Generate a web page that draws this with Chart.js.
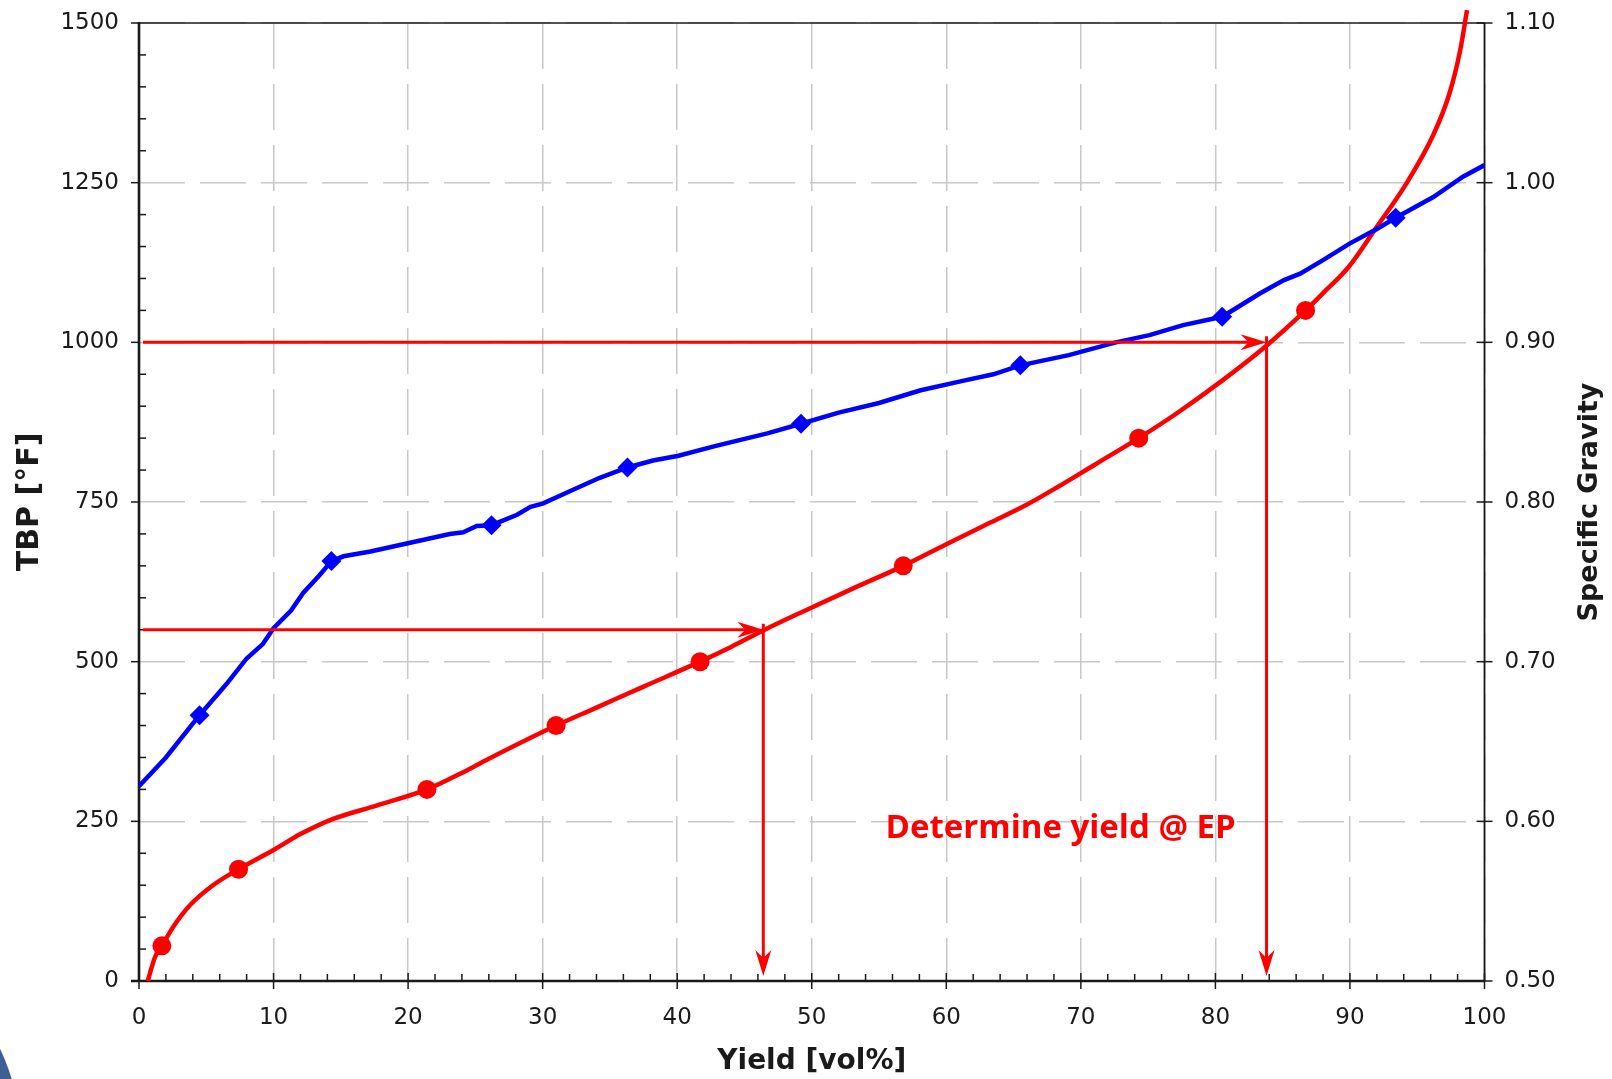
<!DOCTYPE html>
<html>
<head>
<meta charset="utf-8">
<title>TBP curve and specific gravity</title>
<script src="https://cdn.jsdelivr.net/npm/chart.js@4.4.1/dist/chart.umd.min.js"></script>
<style>
  html, body { margin: 0; padding: 0; background: #fff; overflow: hidden; }
  #wrap { position: relative; width: 1612px; height: 1079px; overflow: hidden; }
  #logo { position: absolute; left: -380px; top: 936px; width: 400px; height: 400px; border-radius: 50%; background: #3f5f94; }
</style>
</head>
<body>
<div id="wrap">
  <canvas id="tbpChart" width="1612" height="1079"></canvas>
  <div id="logo"></div>
</div>
<script>
// TBP distillation curve: cumulative yield [vol%] vs. boiling point [°F]
const tbpYield = [0.65, 1.2, 1.7, 2.55, 3.8, 5.5, 7.4, 10, 12, 14.2, 17.7, 21.4, 24.1, 26, 31, 34, 37.5, 41.7, 44, 46.5, 49.4, 53, 56.8, 60, 63.2, 66, 68.4, 71, 74.3, 77, 80.5, 83.7, 86.7, 88, 89.9, 92, 94.2, 96.2, 97.4, 98.2, 98.7]
const tbpTemp = [0, 38, 55, 85, 119, 150, 175, 205, 230, 252, 275, 300, 327, 348, 400, 428, 461, 500, 523, 550, 579, 614, 650, 684, 717, 746, 775, 808, 850, 887, 940, 993, 1050, 1077, 1118, 1181, 1249, 1325, 1390, 1458, 1520]

// assay cuts plotted with round markers
const tbpMarkYield = [1.7, 7.4, 21.4, 31, 41.7, 56.8, 74.3, 86.7]
const tbpMarkTemp = [55, 175, 300, 400, 500, 650, 850, 1050]

// specific gravity along the same yield axis
const sgYield = [0, 2, 4.5, 6.5, 8, 9.2, 10, 11.3, 12.2, 13.4, 14.3, 15.2, 17.2, 19.9, 23.1, 24.1, 25.1, 26.2, 28.1, 29.1, 30, 32.1, 34.2, 36.3, 38.2, 40.1, 42.8, 46.7, 49.2, 52, 55, 58.1, 61.3, 63.5, 65.5, 69.1, 72.6, 75.1, 77.6, 80.5, 83.3, 85.1, 86.3, 88, 90, 92, 93.4, 96.2, 98.4, 100]
const sgValue = [0.622, 0.640, 0.6665, 0.686, 0.702, 0.711, 0.721, 0.732, 0.743, 0.754, 0.763, 0.766, 0.769, 0.774, 0.780, 0.781, 0.785, 0.7855, 0.792, 0.797, 0.799, 0.807, 0.815, 0.8216, 0.826, 0.829, 0.835, 0.843, 0.849, 0.856, 0.862, 0.870, 0.876, 0.880, 0.8856, 0.892, 0.900, 0.9045, 0.9108, 0.916, 0.9306, 0.939, 0.943, 0.9515, 0.962, 0.971, 0.978, 0.991, 1.0037, 1.011]

const sgMarkYield = [4.5, 14.3, 26.2, 36.3, 49.2, 65.5, 80.5, 93.4]
const sgMarkValue = [0.6665, 0.763, 0.7855, 0.8216, 0.849, 0.8856, 0.916, 0.978]

// end point temperatures and the yields
const epTemp = [550, 1000]
const epYield = [46.4, 83.8]
const noteText = 'Determine yield @ EP'
const noteAt = [68.5, 224]

const RED = '#ff0000'
const BLUE = '#0000ff'
const INK = '#1a1a1a'
const GRID = '#c8c8c8'
const tickFont = { family: '"DejaVu Sans", Verdana, sans-serif', size: 23 }
const titleFamily = '"DejaVu Sans", Verdana, sans-serif'

const toPoints = (xs, ys) => xs.map((x, i) => ({ x: x, y: ys[i] }))

function seg (ctx, x1, y1, x2, y2) {
  ctx.beginPath()
  ctx.moveTo(x1, y1)
  ctx.lineTo(x2, y2)
  ctx.stroke()
}

/**
 * Barbed arrow head with its tip at (tx, ty), pointing right or down.
 */
function arrowHead (ctx, tx, ty, dir) {
  const len = 26
  const half = 8
  const notch = 18
  ctx.beginPath()
  if (dir === 'right') {
    ctx.moveTo(tx, ty)
    ctx.lineTo(tx - len, ty - half)
    ctx.lineTo(tx - notch, ty)
    ctx.lineTo(tx - len, ty + half)
  } else {
    ctx.moveTo(tx, ty)
    ctx.lineTo(tx - half, ty - len)
    ctx.lineTo(tx, ty - notch)
    ctx.lineTo(tx + half, ty - len)
  }
  ctx.closePath()
  ctx.fill()
}

// keep the side axes from pushing the plot area down
function fixSide (width) {
  return function (scale) {
    scale.width = width
    scale.paddingTop = 12
    scale.paddingBottom = 12
  }
}

// axis frame plus major/minor tick marks
const axisFrame = {
  id: 'axisFrame',
  beforeDatasetsDraw (chart) {
    const { ctx, chartArea: a, scales: { x, y, y1 } } = chart
    ctx.save()
    ctx.strokeStyle = INK
    ctx.lineWidth = 1.5
    seg(ctx, a.left, a.top, a.right, a.top)
    ctx.lineWidth = 1.8
    seg(ctx, a.right, a.top, a.right, a.bottom)
    ctx.lineWidth = 2.6
    seg(ctx, a.left, a.top - 1, a.left, a.bottom + 1)
    seg(ctx, a.left - 8, a.bottom, a.right, a.bottom)

    ctx.lineWidth = 1.5
    for (let v = 0; v <= 1500; v += 50) {
      const py = y.getPixelForValue(v)
      if (v % 250 === 0) seg(ctx, a.left - 8, py, a.left, py)
      else seg(ctx, a.left, py, a.left + 7, py)
    }
    for (let v = 0; v <= 100; v += 2) {
      const px = x.getPixelForValue(v)
      if (v % 10 === 0) seg(ctx, px, a.bottom - 8, px, a.bottom + 8)
      else seg(ctx, px, a.bottom - 7, px, a.bottom)
    }
    for (let k = 0; k <= 6; k++) {
      const py = y1.getPixelForValue(0.5 + k * 0.1)
      seg(ctx, a.right - 8, py, a.right + 8, py)
    }
    ctx.restore()
  }
}

// reading arrows, the note and the right-hand axis title
const readings = {
  id: 'readings',
  afterDatasetsDraw (chart) {
    const { ctx, chartArea: a, scales: { x, y } } = chart
    ctx.save()
    ctx.strokeStyle = RED
    ctx.fillStyle = RED
    ctx.lineWidth = 3
    const x0 = x.getPixelForValue(0.3)
    const yb = y.getPixelForValue(0)
    epTemp.forEach((t, i) => {
      const px = x.getPixelForValue(epYield[i])
      const py = y.getPixelForValue(t)
      seg(ctx, x0, py, px - 18, py)
      arrowHead(ctx, px, py, 'right')
      seg(ctx, px, py - 6, px, yb - 22)
      arrowHead(ctx, px, yb - 5, 'down')
    })

    ctx.font = 'bold 33px "Open Sans", sans-serif'
    ctx.textAlign = 'center'
    ctx.textBaseline = 'alphabetic'
    ctx.fillText(noteText, x.getPixelForValue(noteAt[0]), y.getPixelForValue(noteAt[1]))

    ctx.fillStyle = INK
    ctx.font = 'bold 27px ' + titleFamily
    ctx.textBaseline = 'middle'
    ctx.translate(1590, (a.top + a.bottom) / 2)
    ctx.rotate(-Math.PI / 2)
    ctx.fillText('Specific Gravity', 0, 0)
    ctx.restore()
  }
}

const ctx = document.getElementById('tbpChart').getContext('2d')

new Chart(ctx, {
  type: 'line',
  data: {
    datasets: [
      {
        label: 'SG points',
        data: toPoints(sgMarkYield, sgMarkValue),
        yAxisID: 'y1',
        showLine: false,
        pointStyle: 'rectRot',
        pointRadius: 10,
        pointBackgroundColor: BLUE,
        pointBorderColor: BLUE,
        pointBorderWidth: 0,
        order: 1
      },
      {
        label: 'Specific Gravity',
        data: toPoints(sgYield, sgValue),
        yAxisID: 'y1',
        borderColor: BLUE,
        borderWidth: 4.5,
        pointRadius: 0,
        tension: 0,
        order: 2
      },
      {
        label: 'TBP points',
        data: toPoints(tbpMarkYield, tbpMarkTemp),
        yAxisID: 'y',
        showLine: false,
        pointStyle: 'circle',
        pointRadius: 9.5,
        pointBackgroundColor: RED,
        pointBorderColor: RED,
        pointBorderWidth: 0,
        order: 3
      },
      {
        label: 'TBP',
        data: toPoints(tbpYield, tbpTemp),
        yAxisID: 'y',
        borderColor: RED,
        borderWidth: 4.5,
        pointRadius: 0,
        cubicInterpolationMode: 'monotone',
        clip: false,
        order: 4
      }
    ]
  },
  options: {
    responsive: false,
    animation: false,
    devicePixelRatio: 1,
    layout: { padding: { top: 23, left: 0, right: 0, bottom: 0 } },
    plugins: {
      legend: { display: false },
      tooltip: { enabled: false }
    },
    scales: {
      x: {
        type: 'linear',
        min: 0,
        max: 100,
        ticks: { stepSize: 10, padding: 23, maxRotation: 0, font: tickFont, color: INK, callback: v => String(v) },
        grid: { color: GRID, lineWidth: 1.5, drawTicks: false },
        border: { display: false, dash: [46, 15] },
        title: {
          display: true,
          text: 'Yield [vol%]',
          color: INK,
          font: { family: titleFamily, size: 28, weight: 'bold' },
          padding: 0
        },
        afterFit (scale) { scale.height = 98 }
      },
      y: {
        position: 'left',
        min: 0,
        max: 1500,
        ticks: { stepSize: 250, padding: 20, font: tickFont, color: INK, callback: v => String(v) },
        grid: { color: GRID, lineWidth: 1.5, drawTicks: false },
        border: { display: false, dash: [46, 15] },
        title: {
          display: true,
          text: 'TBP [°F]',
          color: INK,
          font: { family: titleFamily, size: 30, weight: 'bold' },
          padding: { top: 12, bottom: 0 }
        },
        afterFit: fixSide(139)
      },
      y1: {
        position: 'right',
        min: 0.5,
        max: 1.1,
        ticks: { stepSize: 0.1, padding: 20, font: tickFont, color: INK, callback: v => v.toFixed(2) },
        grid: { display: false, drawTicks: false },
        border: { display: false },
        afterFit: fixSide(127.5)
      }
    }
  },
  plugins: [axisFrame, readings]
})
</script>
</body>
</html>
